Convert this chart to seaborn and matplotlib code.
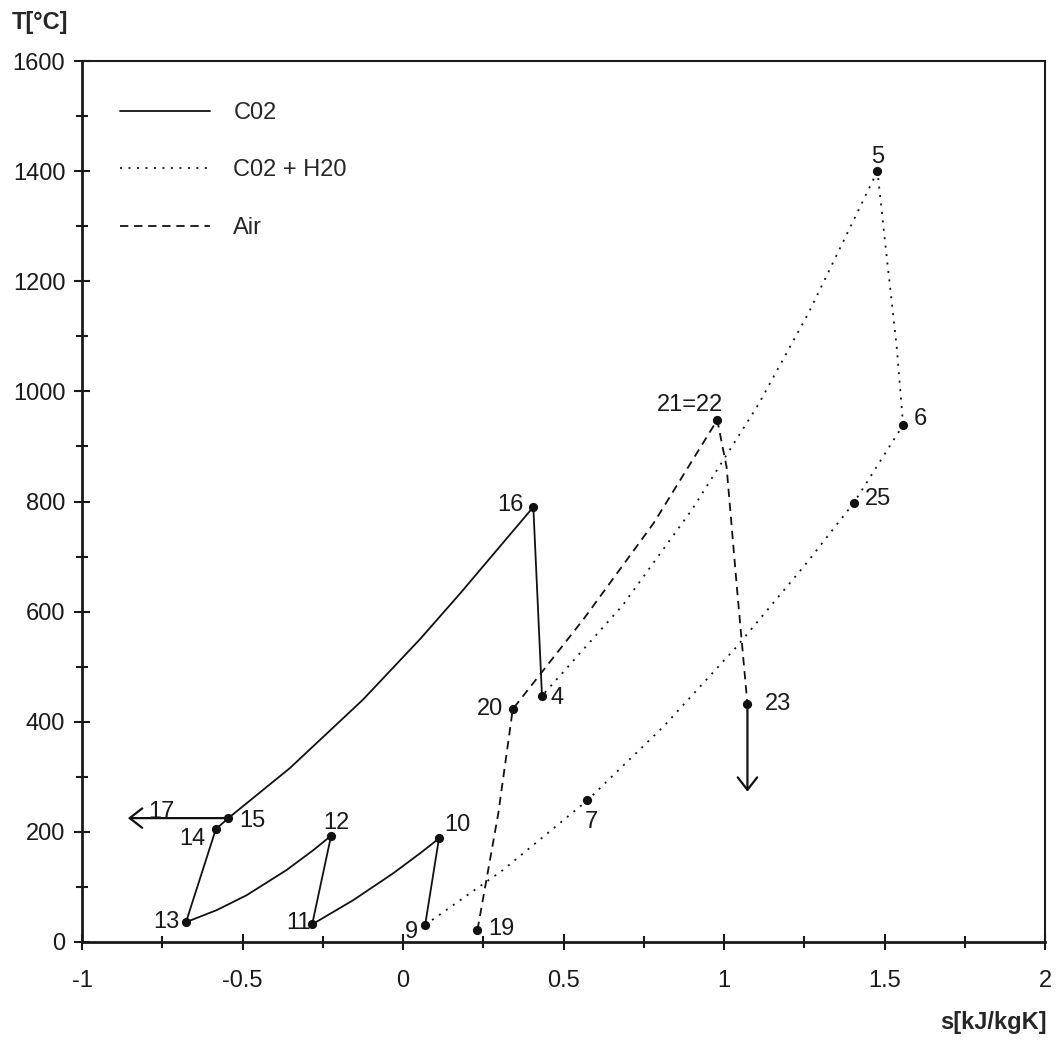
import numpy as np
import pandas as pd
import matplotlib.pyplot as plt
import seaborn as sns
from matplotlib.lines import Line2D
from matplotlib.ticker import MultipleLocator

sns.set_theme(style='ticks')
plt.rcParams['font.family'] = ['Liberation Sans', 'DejaVu Sans']

## state points (label, s [kJ/kgK], T [C])
pt_names = ['4', '5', '6', '25', '7', '9', '10', '11', '12', '13', '14', '15',
            '16', '19', '20', '21=22', '23']
pt_s = [0.433, 1.478, 1.558, 1.405, 0.574, 0.069, 0.112, -0.283, -0.224,
        -0.676, -0.583, -0.544, 0.406, 0.232, 0.342, 0.979, 1.073]
pt_T = [447, 1400, 939, 798, 257, 31, 188, 32, 193, 36, 205, 225, 790, 22,
        423, 948, 432]

## C02 lines (solid)
co2_a_s = [0.069, 0.112]                      # 9 -> 10
co2_a_T = [31, 188]
co2_b_s = [0.112, 0.053, -0.030, -0.155, -0.283]  # 10 -> 11
co2_b_T = [188, 161, 125, 76, 32]
co2_c_s = [-0.283, -0.224]                    # 11 -> 12
co2_c_T = [32, 193]
co2_d_s = [-0.224, -0.279, -0.362, -0.487, -0.580, -0.676]  # 12 -> 13
co2_d_T = [193, 167, 131, 85, 58, 36]
co2_e_s = [-0.676, -0.583]                    # 13 -> 14
co2_e_T = [36, 205]
co2_f_s = [-0.583, -0.544, -0.352, -0.125, 0.053, 0.178, 0.406]  # 14 -> 15 -> 16
co2_f_T = [205, 225, 316, 440, 550, 633, 790]
co2_g_s = [0.406, 0.433]                      # 16 -> 4
co2_g_T = [790, 447]

## C02 + H20 lines (dotted)
gas_a_s = [0.069, 0.312, 0.574, 0.811, 1.039, 1.257, 1.405, 1.558]  # 9 -> 7 -> 25 -> 6
gas_a_T = [31, 131, 257, 391, 536, 688, 798, 939]
gas_b_s = [1.558, 1.538, 1.509, 1.478]        # 6 -> 5
gas_b_T = [939, 1081, 1233, 1400]
gas_c_s = [1.478, 1.263, 1.106, 0.900, 0.685, 0.433]  # 5 -> 4
gas_c_T = [1400, 1142, 975, 785, 612, 447]

## Air line (dashed) 19 -> 20 -> 21=22 -> 23
air_s = [0.232, 0.297, 0.342, 0.562, 0.780, 0.979, 1.008, 1.040, 1.073]
air_T = [22, 234, 423, 586, 760, 948, 863, 645, 432]

## arrows: 15 -> 17 and 23 -> out
arr17_s = [-0.544, -0.857]
arr17_T = [225, 225]
arr23_s = [1.073, 1.073]
arr23_T = [432, 273]

paths = [('C02', co2_a_s, co2_a_T), ('C02', co2_b_s, co2_b_T),
         ('C02', co2_c_s, co2_c_T), ('C02', co2_d_s, co2_d_T),
         ('C02', co2_e_s, co2_e_T), ('C02', co2_f_s, co2_f_T),
         ('C02', co2_g_s, co2_g_T),
         ('C02 + H20', gas_a_s, gas_a_T), ('C02 + H20', gas_b_s, gas_b_T),
         ('C02 + H20', gas_c_s, gas_c_T),
         ('Air', air_s, air_T)]

rows = []
for i, (medium, ss, tt) in enumerate(paths):
    for k, (a, b) in enumerate(zip(ss, tt)):
        rows.append({'path': i, 'order': k, 'medium': medium, 's': a, 'T': b})
df = pd.DataFrame(rows)

pts = pd.DataFrame({'name': pt_names, 's': pt_s, 'T': pt_T})

lw = 1.3
dot_dash = (1.1, 3.6)
air_dash = (4.6, 3.2)
dash_map = {'C02': '', 'C02 + H20': dot_dash, 'Air': air_dash}

fig = plt.figure(figsize=(10.57, 10.41), dpi=100)
ax = fig.add_axes([82/1057, 99/1041, 963/1057, 881/1041])

sns.lineplot(data=df, x='s', y='T', units='path', estimator=None, sort=False,
             style='medium', dashes=dash_map, color='#111111', linewidth=lw,
             legend=False, ax=ax)
sns.scatterplot(data=pts, x='s', y='T', color='#111111', s=44, linewidth=0,
                zorder=5, ax=ax)

arrow_kw = dict(arrowstyle='->,head_length=0.45,head_width=0.35', color='#111111',
                lw=1.6, shrinkA=0, shrinkB=0, mutation_scale=20)
ax.annotate('', xy=(arr17_s[1], arr17_T[1]), xytext=(arr17_s[0], arr17_T[0]),
            arrowprops=arrow_kw)
ax.annotate('', xy=(arr23_s[1], arr23_T[1]), xytext=(arr23_s[0], arr23_T[0]),
            arrowprops=arrow_kw)

## label offsets in pixels (label centre relative to point)
offsets = {'4': (15, 0), '5': (0, 17), '6': (17, 8), '25': (24, 6), '7': (4, -19),
           '9': (-14, -5), '10': (18, 16), '11': (-14, 4), '12': (5, 15),
           '13': (-20, 3), '14': (-23, -7), '15': (24, 0), '16': (-23, 5),
           '19': (24, 3), '20': (-23, 3), '21=22': (-27, 18), '23': (31, 3)}
fs = 17
for n, a, b in zip(pt_names, pt_s, pt_T):
    dx, dy = offsets[n]
    ax.annotate(n, xy=(a, b), xytext=(dx, dy - 8.5), textcoords='offset pixels',
                ha='center', va='baseline', fontsize=fs, color='#1a1a1a')
ax.annotate('17', xy=(arr17_s[1], arr17_T[1]), xytext=(34, 9 - 8.5),
            textcoords='offset pixels', ha='center', va='baseline',
            fontsize=fs, color='#1a1a1a')

ax.set_xlim(-1, 2)
ax.set_ylim(0, 1600)
ax.xaxis.set_major_locator(MultipleLocator(0.5))
ax.xaxis.set_minor_locator(MultipleLocator(0.25))
ax.yaxis.set_major_locator(MultipleLocator(200))
ax.yaxis.set_minor_locator(MultipleLocator(100))
ax.set_xticks(np.arange(-1, 2.01, 0.5))
ax.set_xticklabels(['-1', '-0.5', '0', '0.5', '1', '1.5', '2'])
ax.tick_params(which='major', direction='inout', length=12, width=1.5,
               labelsize=fs, colors='#1a1a1a')
ax.tick_params(which='minor', direction='inout', length=8, width=1.5,
               colors='#1a1a1a')
ax.tick_params(axis='x', which='major', pad=14)
ax.tick_params(axis='y', which='major', pad=6)
ax.set_xlabel('')
ax.set_ylabel('')
for side in ['left', 'bottom']:
    ax.spines[side].set_linewidth(2.0)
for side in ['top', 'right']:
    ax.spines[side].set_visible(True)
    ax.spines[side].set_linewidth(1.5)
for sp in ax.spines.values():
    sp.set_color('#1a1a1a')

handles = [Line2D([], [], color='#111111', lw=lw),
           Line2D([], [], color='#111111', lw=lw, dashes=dot_dash),
           Line2D([], [], color='#111111', lw=lw, dashes=air_dash)]
ax.legend(handles, ['C02', 'C02 + H20', 'Air'], loc='upper left',
          bbox_to_anchor=(0.0395, 0.9535), frameon=False, fontsize=fs,
          handlelength=3.8, handletextpad=1.0, labelspacing=1.5,
          borderpad=0, borderaxespad=0)

fig.text(12/1057, 1 - 22/1041, 'T[°C]', fontsize=fs, fontweight='bold',
         ha='left', va='center')
fig.text(1047/1057, 1 - 1023/1041, 's[kJ/kgK]', fontsize=fs, fontweight='bold',
         ha='right', va='center')

fig.savefig('out.png', dpi=100)
